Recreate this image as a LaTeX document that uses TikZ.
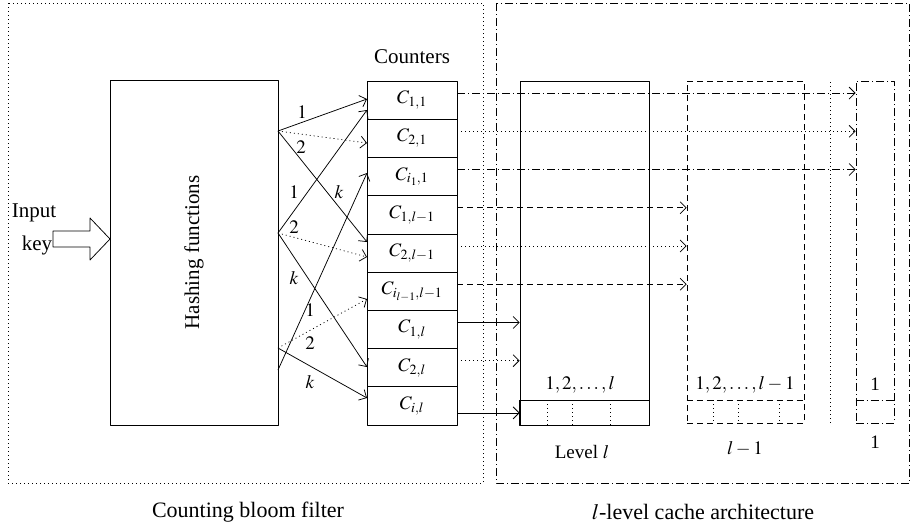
\documentclass[tikz,border=0pt]{standalone}
\usepackage{mathptmx}
\usepackage{fontspec}
\setmainfont{Liberation Serif}
\usetikzlibrary{arrows.meta}
\tikzset{
  dtd/.style={dash pattern=on 1pt off 3pt},
  dsh/.style={dash pattern=on 6pt off 4pt},
  dshdot/.style={dash pattern=on 8pt off 3pt on 1pt off 3pt},
  cnt/.style={draw,minimum width=90pt,minimum height=38.22pt,inner sep=0pt},
  big/.style={font=\fontsize{21}{24}\selectfont},
  capt/.style={font=\fontsize{22}{26}\selectfont},
}
\begin{document}
\begin{tikzpicture}[x=1pt,y=-1pt,font=\fontsize{19}{22}\selectfont,line join=round,line width=0.75pt,>={Straight Barb[length=6pt,width=12pt]}]
\useasboundingbox (0,0) rectangle (911,531);
\draw[dtd] (8,3) rectangle (483,483);
\draw[dshdot] (496,3) rectangle (909.5,483);
\node[draw,minimum width=168pt,minimum height=345pt] (hash) at (194,252.5) {};
\node[big,rotate=90] (hlab) at (hash) {Hashing functions};
\node[big] (inp) at (34,213) {Input};
\node[big] (key) at (37,245) {key};
\draw (110,239)--(90,218)--(90,231)--(53,231)--(53,247)--(90,247)--(90,260)--cycle;
\node[big] (cnts) at (412,57) {Counters};
\foreach \i/\t in {1/{C_{1,1}},2/{C_{2,1}},3/{C_{i_1,1}},4/{C_{1,l-1}},5/{C_{2,l-1}},6/{C_{i_{l-1},l-1}},7/{C_{1,l}},8/{C_{2,l}},9/{C_{i,l}}}
\node[cnt] (c\i) at (412,{81+38.22*(\i-0.5)}) {$\t$};
\foreach \x/\y/\t in {278/131/h1,278/233/h2,278/348/h3,278/370/h4,367/99/p1,367/143/p2,367/242/p3,367/110/p4,367/257/p5,367/367/p6,367/173/p7,367/299/p8,367/398/p9}
\coordinate (\t) at (\x,\y);
\foreach \s/\t/\k in {h1/p1/solid,h1/p2/dtd,h1/p3/solid,h2/p4/solid,h2/p5/dtd,h2/p6/solid,h4/p7/solid,h3/p8/dtd,h3/p9/solid}
\draw[->,\k] (\s)--(\t);
\foreach \x/\y/\t [count=\n] in {302/112/1,301/147/2,294/192/1,339/192/k,294/227/2,294/278/k,310/310/1,310/343/2,310/382/k}
\node (lb\n) at (\x,\y) {$\t$};
\node[draw,minimum width=129pt,minimum height=344pt] (lvl) at (584.5,253) {};
\node[draw,dsh,minimum width=117pt,minimum height=342pt] (lvm) at (745.5,252) {};
\node[draw,dshdot,minimum width=38pt,minimum height=342pt] (lvo) at (875,252) {};
\draw[line width=1.4pt] (lvl.south west) rectangle ([yshift=25pt]lvl.south east);
\draw[dsh] ([yshift=23pt]lvm.south west)--([yshift=23pt]lvm.south east);
\draw[dshdot] ([yshift=23pt]lvo.south west)--([yshift=23pt]lvo.south east);
\foreach \x in {547,572,610}
\draw[dtd] (\x,400)--(\x,425);
\foreach \x in {713,738,779}
\draw[dtd] (\x,400)--(\x,423);
\draw[dtd] (830,82)--(830,423);
\foreach \i/\k/\d/\g in {1/dshdot/7/lvo,2/dtd/7/lvo,3/dshdot/7/lvo,4/dsh/7/lvm,5/dtd/7/lvm,6/dsh/7/lvm,7/solid/7/lvl,8/dtd/7/lvl,9/solid/-7/lvl}
\draw[->,\k] ([yshift=\d pt]c\i.east)--([yshift=\d pt]c\i.east -| \g.west);
\node (t1) at (580,385) {$1,2,\ldots,l$};
\node (t2) at (745,385) {$1,2,\ldots,l-1$};
\node (t3) at (875,384) {1};
\node (b1) at (582,452) {Level $l$};
\node (b2) at (745,449) {$l-1$};
\node (b3) at (875,442) {1};
\node[capt] (f1) at (248,512) {Counting bloom filter};
\node[capt] (f2) at (703,512) {$l$-level cache architecture};
\end{tikzpicture}
\end{document}
